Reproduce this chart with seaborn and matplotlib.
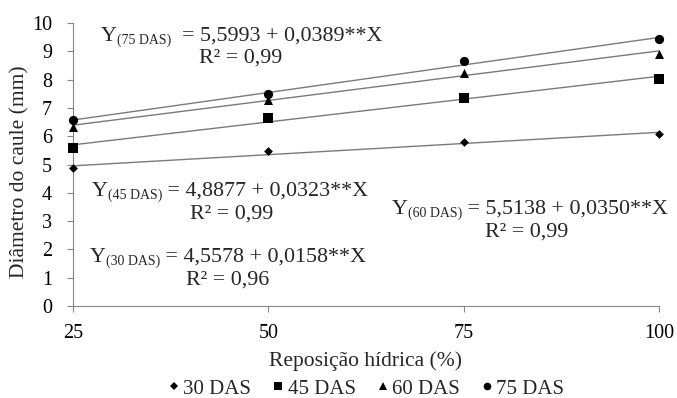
import numpy as np
import pandas as pd
import matplotlib
matplotlib.use("Agg")
import matplotlib.pyplot as plt
from matplotlib.lines import Line2D
import seaborn as sns

# ---- data ----
x_levels = [25, 50, 75, 100]
series = ["30 DAS", "45 DAS", "60 DAS", "75 DAS"]
y_30 = [4.87, 5.47, 5.78, 6.07]
y_45 = [5.58, 6.63, 7.36, 8.02]
y_60 = [6.33, 7.27, 8.25, 8.92]
y_75 = [6.58, 7.48, 8.66, 9.42]
intercepts = [4.5578, 4.8877, 5.5138, 5.5993]
slopes = [0.0158, 0.0323, 0.0350, 0.0389]
eq_subs = ["(30 DAS)", "(45 DAS)", "(60 DAS)", "(75 DAS)"]
eq_rest = [" = 4,5578 + 0,0158**X", " = 4,8877 + 0,0323**X",
           " = 5,5138 + 0,0350**X", "  = 5,5993 + 0,0389**X"]
r2_texts = ["R² = 0,96", "R² = 0,99", "R² = 0,99", "R² = 0,99"]
x_ticks = [25, 50, 75, 100]
y_ticks = list(range(0, 11))

sns.set_theme(style="white")
plt.rcParams["font.family"] = ["Liberation Serif", "DejaVu Serif"]

W, H = 677, 398
df = pd.DataFrame({
    "x": x_levels * 4,
    "y": y_30 + y_45 + y_60 + y_75,
    "Série": [s for s in series for _ in x_levels],
})

fig = plt.figure(figsize=(W / 100, H / 100), dpi=100)
ax = fig.add_axes([73 / W, 1 - 306 / H, (659 - 73) / W, (306 - 23) / H])

gray = "#868686"
rows = []
for s, a, b in zip(series, intercepts, slopes):
    for xv in (x_levels[0], x_levels[-1]):
        rows.append({"x": xv, "y": a + b * xv, "Série": s})
line_df = pd.DataFrame(rows)
sns.lineplot(data=line_df, x="x", y="y", units="Série", estimator=None,
             color="#7a7a7a", lw=1.0, ax=ax, legend=False)

markers = {"30 DAS": "D", "45 DAS": "s", "60 DAS": "^", "75 DAS": "o"}
sizes_map = {"30 DAS": 20, "45 DAS": 45, "60 DAS": 42, "75 DAS": 44}
for s in series:
    d = df[df["Série"] == s]
    sns.scatterplot(data=d, x="x", y="y", marker=markers[s], color="black",
                    s=sizes_map[s], linewidth=0, ax=ax, legend=False,
                    zorder=5, clip_on=False)

ax.set_xlim(25, 100)
ax.set_ylim(0, 10)
ax.set_xticks(x_ticks)
ax.set_yticks(y_ticks)
ax.tick_params(axis="both", labelsize=14.5, colors=gray, length=4, width=0.8,
               direction="out", labelcolor="black", left=True, bottom=True)
ax.tick_params(axis="x", pad=9)
ax.tick_params(axis="y", pad=11)
for sp in ["top", "right"]:
    ax.spines[sp].set_visible(False)
for sp in ["left", "bottom"]:
    ax.spines[sp].set_color(gray)
    ax.spines[sp].set_linewidth(0.8)
ax.set_xlabel("")
ax.set_ylabel("")

fig.text(366 / W, 1 - 361 / H, "Reposição hídrica (%)", fontsize=15.5,
         ha="center", va="center")
fig.text(20 / W, 1 - 172 / H, "Diâmetro do caule (mm)", fontsize=15.5,
         ha="center", va="center", rotation=90)

# equations composed of pieces
fs_main, fs_sub = 15.8, 10
fig.canvas.draw()
renderer = fig.canvas.get_renderer()


def equation(i, px, py):
    t1 = fig.text(px / W, 1 - py / H, "Y", fontsize=fs_main, ha="left", va="baseline")
    bb = t1.get_window_extent(renderer)
    t2 = fig.text(bb.x1 / W, 1 - (py + 3) / H, eq_subs[i], fontsize=fs_sub,
                  ha="left", va="baseline")
    bb2 = t2.get_window_extent(renderer)
    fig.text(bb2.x1 / W, 1 - py / H, eq_rest[i], fontsize=fs_main,
             ha="left", va="baseline")


def r2(i, px, py):
    fig.text(px / W, 1 - py / H, r2_texts[i], fontsize=fs_main,
             ha="center", va="baseline")


equation(3, 101, 41)
r2(3, 241, 63)
equation(1, 92, 196)
r2(1, 232, 219)
equation(0, 90, 262)
r2(0, 228, 285)
equation(2, 392, 214)
r2(2, 527, 237)

handles = [
    Line2D([], [], ls="", marker="D", color="black", markersize=4, markeredgewidth=0),
    Line2D([], [], ls="", marker="s", color="black", markersize=6, markeredgewidth=0),
    Line2D([], [], ls="", marker="^", color="black", markersize=6, markeredgewidth=0),
    Line2D([], [], ls="", marker="o", color="black", markersize=5.5, markeredgewidth=0),
]
fig.legend(handles, series, loc="center", bbox_to_anchor=(366 / W, 1 - 389 / H),
           ncol=4, frameon=False, fontsize=15, handletextpad=0.15,
           columnspacing=1.0, handlelength=0.6, borderpad=0, borderaxespad=0)

fig.savefig("out.png", dpi=100)
